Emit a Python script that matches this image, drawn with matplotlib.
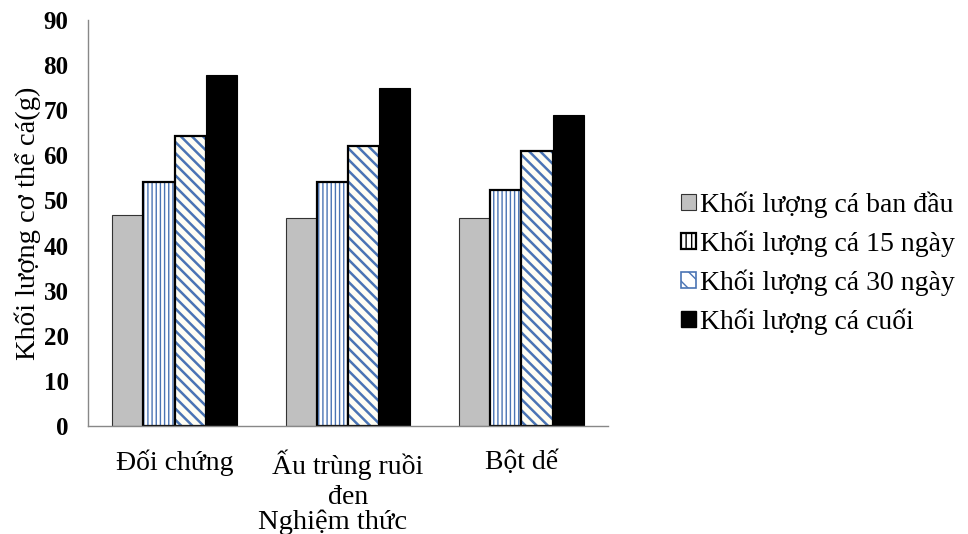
import numpy as np
import matplotlib
matplotlib.use('Agg')
import matplotlib.pyplot as plt
from matplotlib.patches import Patch

plt.rcParams['font.family'] = ['Liberation Serif', 'DejaVu Serif']

categories = ['Đối chứng', 'Ấu trùng ruồi\nđen', 'Bột dế']
series_names = ['Khối lượng cá ban đầu', 'Khối lượng cá 15 ngày',
                'Khối lượng cá 30 ngày', 'Khối lượng cá cuối']
ban_dau = [46.8, 46, 46]
ngay_15 = [54, 54, 52.3]
ngay_30 = [64.2, 62, 61]
cuoi = [77.8, 75, 69]
yticks = [0, 10, 20, 30, 40, 50, 60, 70, 80, 90]

hatch_blue = '#4a74b4'

fig = plt.figure(figsize=(9.68, 5.34), dpi=100)
ax = fig.add_axes([88/968, 1 - 426/534, 520/968, 406/534])

x = np.arange(len(categories))
w = 0.18
offs = np.array([-1.5, -0.5, 0.5, 1.5]) * w

# gray bars
ax.bar(x + offs[0], ban_dau, w, color='#c0c0c0', edgecolor='#333333', linewidth=0.8)
# vertical stripes: hatch layer then outline
with plt.rc_context({'hatch.linewidth': 1.0}):
    ax.bar(x + offs[1], ngay_15, w, color='white', edgecolor=hatch_blue, linewidth=0, hatch='||||')
ax.bar(x + offs[1], ngay_15, w, fill=False, edgecolor='black', linewidth=1.6)
# diagonal stripes
with plt.rc_context({'hatch.linewidth': 1.8}):
    ax.bar(x + offs[2], ngay_30, w, color='#fffef4', edgecolor=hatch_blue, linewidth=0, hatch='\\\\\\')
ax.bar(x + offs[2], ngay_30, w, fill=False, edgecolor='black', linewidth=1.6)
# black bars
ax.bar(x + offs[3], cuoi, w, color='black', edgecolor='black', linewidth=0.8)

ax.set_xlim(-0.5, 2.5)
ax.set_ylim(0, 90)
ax.set_yticks(yticks)
ax.set_yticklabels([str(v) for v in yticks], fontsize=18, fontweight='bold')
ax.set_xticks(x)
ax.set_xticklabels(categories, fontsize=20, linespacing=1.25)
ax.tick_params(axis='both', length=0)
ax.tick_params(axis='x', pad=17)
ax.tick_params(axis='y', pad=14)
for s in ['top', 'right']:
    ax.spines[s].set_visible(False)
for s in ['left', 'bottom']:
    ax.spines[s].set_color('#888888')
    ax.spines[s].set_linewidth(1.0)

ax.set_ylabel('Khối lượng cơ thể cá(g)', fontsize=20.5, labelpad=2)
fig.text(333/968, 1 - 522/534, 'Nghiệm thức', fontsize=20.5, ha='center', va='center')

handles = [
    Patch(facecolor='#c0c0c0', edgecolor='#333333', linewidth=0.8),
    Patch(facecolor='white', edgecolor='black', linewidth=1.6, hatch='|||'),
    Patch(facecolor='white', edgecolor=hatch_blue, linewidth=1.2, hatch='\\\\'),
    Patch(facecolor='black', edgecolor='black'),
]
fig.legend(handles, series_names, loc='center left', bbox_to_anchor=(656/968, 1 - 263/534),
           frameon=False, fontsize=20, handlelength=0.55, handleheight=0.55,
           handletextpad=0.15, labelspacing=0.45)

fig.savefig('out.png', dpi=100)
